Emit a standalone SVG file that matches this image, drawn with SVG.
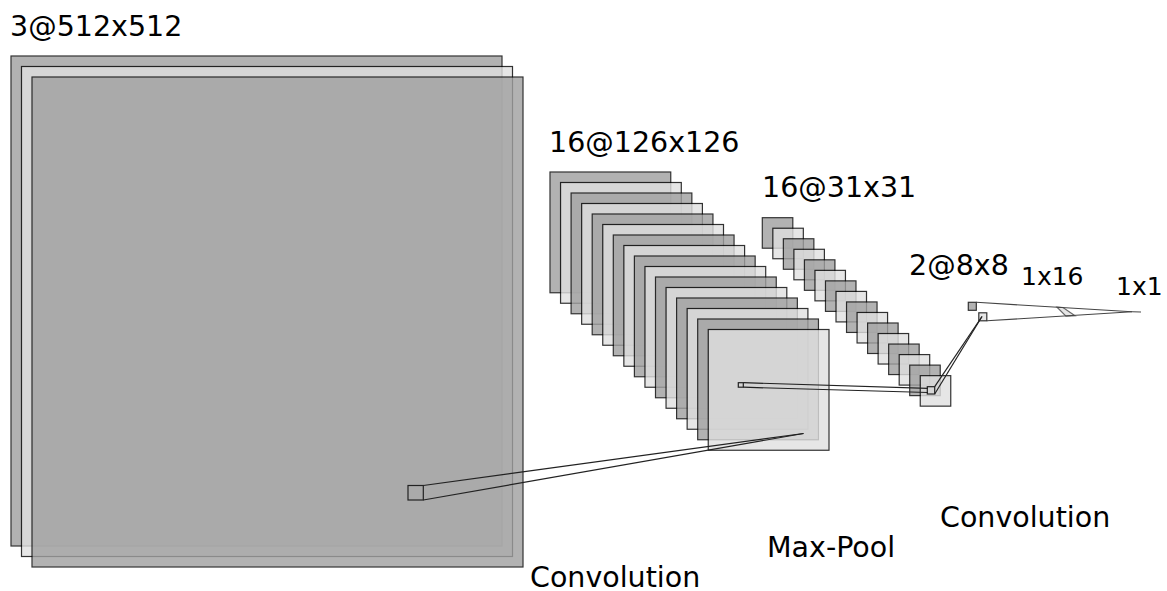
<svg xmlns="http://www.w3.org/2000/svg" width="1167" height="591" viewBox="0 0 1167 591">
  <style>
    .fm { stroke: #000; stroke-width: 1.2; opacity: 0.8; }
    .dark { fill: #a0a0a0; }
    .light { fill: #e0e0e0; }
    .kernel { fill: none; stroke: #222; stroke-width: 1.2; }
    .link { stroke: #222; stroke-width: 1.2; fill: none; }
    .fc { stroke: #444; stroke-width: 1.1; fill: none; }
    .label { font-family: "DejaVu Sans", "Noto Sans", sans-serif; font-size: 28.5px; fill: #000; }
    .label-sm { font-family: "DejaVu Sans", "Noto Sans", sans-serif; font-size: 25px; fill: #000; }
  </style>

  <!-- input: 3 channels -->
  <g id="input">
    <rect class="fm dark" x="11" y="56" width="491" height="490"/>
    <rect class="fm light" x="21.5" y="66.5" width="491" height="490"/>
    <rect class="fm dark" x="32" y="77" width="491" height="490"/>
    <text class="label" x="10" y="36">3@512x512</text>
  </g>

  <!-- first convolution output: 16 maps -->
  <g id="conv1">
    <rect class="fm dark" x="550" y="172" width="120.75" height="120.75"/>
    <rect class="fm light" x="560.55" y="182.5" width="120.75" height="120.75"/>
    <rect class="fm dark" x="571.1" y="193" width="120.75" height="120.75"/>
    <rect class="fm light" x="581.65" y="203.5" width="120.75" height="120.75"/>
    <rect class="fm dark" x="592.2" y="214" width="120.75" height="120.75"/>
    <rect class="fm light" x="602.75" y="224.5" width="120.75" height="120.75"/>
    <rect class="fm dark" x="613.3" y="235" width="120.75" height="120.75"/>
    <rect class="fm light" x="623.85" y="245.5" width="120.75" height="120.75"/>
    <rect class="fm dark" x="634.4" y="256" width="120.75" height="120.75"/>
    <rect class="fm light" x="644.95" y="266.5" width="120.75" height="120.75"/>
    <rect class="fm dark" x="655.5" y="277" width="120.75" height="120.75"/>
    <rect class="fm light" x="666.05" y="287.5" width="120.75" height="120.75"/>
    <rect class="fm dark" x="676.6" y="298" width="120.75" height="120.75"/>
    <rect class="fm light" x="687.15" y="308.5" width="120.75" height="120.75"/>
    <rect class="fm dark" x="697.7" y="319" width="120.75" height="120.75"/>
    <rect class="fm light" x="708.25" y="329.5" width="120.75" height="120.75"/>
    <text class="label" x="549" y="152">16@126x126</text>
  </g>

  <!-- pooled maps: 16 maps -->
  <g id="pool1">
    <rect class="fm dark" x="762.3" y="217.7" width="30.5" height="30.5"/>
    <rect class="fm light" x="772.83" y="228.23" width="30.5" height="30.5"/>
    <rect class="fm dark" x="783.36" y="238.76" width="30.5" height="30.5"/>
    <rect class="fm light" x="793.89" y="249.29" width="30.5" height="30.5"/>
    <rect class="fm dark" x="804.42" y="259.82" width="30.5" height="30.5"/>
    <rect class="fm light" x="814.95" y="270.35" width="30.5" height="30.5"/>
    <rect class="fm dark" x="825.48" y="280.88" width="30.5" height="30.5"/>
    <rect class="fm light" x="836.01" y="291.41" width="30.5" height="30.5"/>
    <rect class="fm dark" x="846.54" y="301.94" width="30.5" height="30.5"/>
    <rect class="fm light" x="857.07" y="312.47" width="30.5" height="30.5"/>
    <rect class="fm dark" x="867.6" y="323" width="30.5" height="30.5"/>
    <rect class="fm light" x="878.13" y="333.53" width="30.5" height="30.5"/>
    <rect class="fm dark" x="888.66" y="344.06" width="30.5" height="30.5"/>
    <rect class="fm light" x="899.19" y="354.59" width="30.5" height="30.5"/>
    <rect class="fm dark" x="909.72" y="365.12" width="30.5" height="30.5"/>
    <rect class="fm light" x="920.25" y="375.65" width="30.5" height="30.5"/>
    <text class="label" x="762" y="197">16@31x31</text>
  </g>

  <!-- second convolution output: 2 maps -->
  <g id="conv2">
    <rect class="fm dark" x="968.3" y="302.3" width="8" height="8"/>
    <rect class="fm light" x="978.8" y="312.8" width="8" height="8"/>
    <text class="label" x="909" y="275">2@8x8</text>
  </g>

  <!-- dense layers -->
  <g id="dense1">
    <polygon class="fm light" points="1057,307.1 1063,307.5 1075,315.7 1066,316.2" style="stroke:#444"/>
    <text class="label-sm" x="1021" y="285">1x16</text>
  </g>
  <g id="dense2">
    <text class="label-sm" x="1116" y="295">1x1</text>
  </g>

  <!-- operation captions -->
  <g id="captions">
    <text class="label" x="530" y="587">Convolution</text>
    <text class="label" x="767" y="557">Max-Pool</text>
    <text class="label" x="940" y="527">Convolution</text>
  </g>

  <!-- kernels and the lines that project them onto the next layer -->
  <g id="connectors">
    <rect class="kernel" x="408" y="485.5" width="15.3" height="14.5"/>
    <line class="link" x1="423.3" y1="485.5" x2="803.5" y2="433.5"/>
    <line class="link" x1="423.3" y1="500" x2="803.5" y2="433.5"/>

    <rect class="kernel" x="738.3" y="382.7" width="5" height="4.5"/>
    <line class="link" x1="743.3" y1="382.7" x2="928" y2="388.3"/>
    <line class="link" x1="743.3" y1="387.2" x2="928" y2="392.5"/>

    <rect class="kernel" x="927.3" y="386.7" width="7.4" height="7.3"/>
    <line class="link" x1="934.7" y1="386.7" x2="982" y2="316.5"/>
    <line class="link" x1="934.7" y1="394" x2="982" y2="316.5"/>

    <line class="fc" x1="976.3" y1="302.3" x2="1132" y2="311.8"/>
    <line class="fc" x1="986.8" y1="320.8" x2="1132" y2="311.8"/>
    <line class="fc" x1="1132" y1="311.8" x2="1141" y2="312"/>
  </g>
</svg>
